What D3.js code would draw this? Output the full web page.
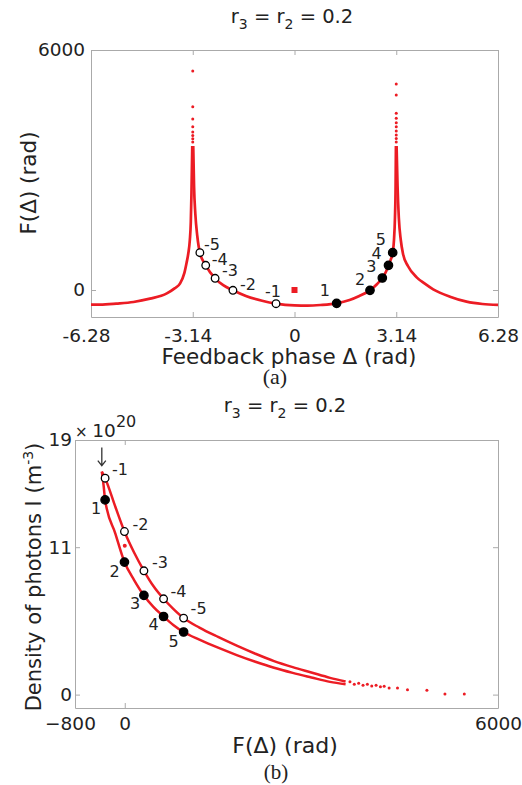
<!DOCTYPE html>
<html>
<head>
<meta charset="utf-8">
<script src="https://cdn.jsdelivr.net/npm/d3@7"></script>
<style>
  body { margin: 0; background: #fff; }
  svg text { font-family: "DejaVu Sans", sans-serif; fill: #222; }
</style>
</head>
<body>
<svg id="chart" width="522" height="785"></svg>
<script>
// ---- panel (a): F(Δ) vs feedback phase ----
const phaseLeft = [-6.28, -6.0, -5.5, -4.97, -4.46, -3.94, -3.7, -3.53, -3.4, -3.33, -3.28, -3.23, -3.2, -3.18, -3.155];
const fLeft     = [-368, -366, -340, -300, -217, -83, 40, 167, 420, 680, 900, 1250, 1700, 2400, 3600];
const phaseMid  = [-3.125, -3.1, -3.06, -3.0, -2.92, -2.74, -2.45, -2.2, -1.9, -1.5, -1.0, -0.57, 0, 0.4, 0.8, 1.3, 1.7, 2.0, 2.33, 2.55, 2.71, 2.83, 2.9, 2.97, 3.03, 3.07, 3.1, 3.12, 3.13];
const fMid      = [3600, 2600, 1900, 1350, 933, 617, 292, 120, -8, -150, -270, -342, -385, -390, -375, -333, -250, -150, -8, 150, 300, 470, 617, 760, 933, 1250, 1800, 2600, 3600];
const phaseRight = [3.15, 3.18, 3.22, 3.28, 3.35, 3.5, 3.77, 4.0, 4.28, 4.8, 5.31, 5.8, 6.28];
const fRight     = [3600, 2600, 1800, 1250, 900, 600, 317, 170, 17, -167, -292, -350, -370];
// sparse samples on top of the two spikes
const spikeLeftF  = [3700, 3780, 3860, 3950, 4083, 4275, 4583, 5475];
const spikeRightF = [3700, 3790, 3875, 3975, 4083, 4183, 4292, 4417, 4875, 5150];
// marked modes
const modeNeg = ["-1", "-2", "-3", "-4", "-5"];
const modePos = ["1", "2", "3", "4", "5"];
const phaseNeg = [-0.57, -1.90, -2.45, -2.74, -2.92];
const fNegA    = [-342, -8, 292, 617, 933];
const phasePos = [1.30, 2.33, 2.71, 2.90, 3.03];
const fPosA    = [-333, -8, 300, 617, 933];
const xTicksA = [-6.28, -3.14, 0, 3.14, 6.28];
const xTickLabelsA = ["-6.28", "-3.14", "0", "3.14", "6.28"];
const yTicksA = [0, 6000];

// ---- panel (b): photon density vs F(Δ) ----
const fUpper = [-369, -316, -150, -5, 150, 308, 460, 624, 780, 946, 1200, 1500, 1800, 2100, 2400, 2700, 3000, 3300, 3550];
const iUpper = [16.64, 16.15, 14.0, 12.17, 10.6, 9.24, 8.1, 7.15, 6.4, 5.71, 5.0, 4.3, 3.65, 3.05, 2.5, 2.05, 1.65, 1.25, 0.98];
const fLower = [-369, -340, -316, -150, -5, 150, 308, 460, 624, 780, 946, 1200, 1500, 1800, 2100, 2400, 2700, 3000, 3300, 3550];
const iLower = [16.64, 15.6, 14.53, 12.0, 9.89, 8.55, 7.40, 6.55, 5.83, 5.2, 4.67, 4.1, 3.5, 2.95, 2.45, 2.0, 1.62, 1.28, 0.95, 0.78];
const fTail = [3620, 3690, 3760, 3830, 3900, 3970, 4040, 4110, 4170, 4250, 4384, 4545, 4857, 5147, 5458];
const iTail = [0.95, 0.78, 0.85, 0.7, 0.78, 0.64, 0.7, 0.58, 0.62, 0.5, 0.5, 0.37, 0.32, 0.05, 0.05];
const fNegB = [-316, -5, 308, 624, 946];
const iNegB = [16.15, 12.17, 9.24, 7.15, 5.71];
const fPosB = [-316, -5, 308, 624, 946];
const iPosB = [14.53, 9.89, 7.40, 5.83, 4.67];
const xTicksB = [-800, 0, 6000];
const yTicksB = [0, 11, 19];

const red = "#ec1c24";
const boxColor = "#aaa";
const svg = d3.select("#chart");

function toPts(xs, ys) { return xs.map((v, i) => [v, ys[i]]); }

function frame(x, y, xt, xfmt, yt, padX, padY) {
  const [x0, x1] = x.range(), [y0, y1] = y.range();
  const style = g => {
    g.attr("font-family", "DejaVu Sans").attr("font-size", 18.5);
    g.select(".domain").attr("stroke", boxColor);
    g.selectAll(".tick line").attr("stroke", boxColor);
    g.selectAll(".tick text").attr("fill", "#222");
  };
  svg.append("g").attr("transform", `translate(0,${y0})`)
    .call(d3.axisBottom(x).tickValues(xt).tickFormat(xfmt).tickSize(-5).tickSizeOuter(0).tickPadding(padX))
    .call(style)
    .selectAll(".tick text").attr("dx", d => d < 0 ? -5 : 0);
  svg.append("g").attr("transform", `translate(0,${y1})`)
    .call(d3.axisTop(x).tickValues(xt).tickFormat("").tickSize(-5).tickSizeOuter(0)).call(style);
  svg.append("g").attr("transform", `translate(${x0},0)`)
    .call(d3.axisLeft(y).tickValues(yt).tickFormat(d3.format("d")).tickSize(-5).tickSizeOuter(0).tickPadding(padY))
    .call(style);
  svg.append("g").attr("transform", `translate(${x1},0)`)
    .call(d3.axisRight(y).tickValues(yt).tickFormat("").tickSize(-5).tickSizeOuter(0)).call(style);
}

function title(cx, cy) {
  const t = svg.append("text").attr("x", cx).attr("y", cy).attr("text-anchor", "middle").attr("font-size", 19.5);
  t.append("tspan").text("r");
  t.append("tspan").attr("dy", 6).attr("font-size", 14).text("3");
  t.append("tspan").attr("dy", -6).text(" = r");
  t.append("tspan").attr("dy", 6).attr("font-size", 14).text("2");
  t.append("tspan").attr("dy", -6).text(" = 0.2");
}

function markers(pts, filled, labels, dx, dy) {
  pts.forEach(([px, py], i) => {
    svg.append("circle").attr("cx", px).attr("cy", py).attr("r", filled ? 4.2 : 3.8)
      .attr("fill", filled ? "#000" : "#fff").attr("stroke", "#000").attr("stroke-width", 1.3);
    svg.append("text").attr("x", px + dx[i]).attr("y", py + dy[i]).attr("font-size", 16).text(labels[i]);
  });
}

// ================= panel (a) =================
const xA = d3.scaleLinear().domain([-6.28, 6.28]).range([91, 498]);
const yA = d3.scaleLinear().domain([-675, 6000]).range([317, 50]);
frame(xA, yA, xTicksA, (d, i) => xTickLabelsA[i], yTicksA, 12, 6);

const lineA = d3.line().x(d => xA(d[0])).y(d => yA(d[1])).curve(d3.curveMonotoneX);
[toPts(phaseLeft, fLeft), toPts(phaseMid, fMid), toPts(phaseRight, fRight)].forEach(seg => {
  svg.append("path").datum(seg).attr("d", lineA).attr("fill", "none")
    .attr("stroke", red).attr("stroke-width", 2.7);
});
[[-3.14, spikeLeftF], [3.14, spikeRightF]].forEach(([ph, vals]) => {
  svg.selectAll(null).data(vals).enter().append("circle")
    .attr("cx", xA(ph)).attr("cy", d => yA(d)).attr("r", 1.5).attr("fill", red);
});
svg.append("rect").attr("x", xA(0) - 3).attr("y", yA(0) - 3).attr("width", 6).attr("height", 6).attr("fill", red);

markers(toPts(phaseNeg, fNegA).map(d => [xA(d[0]), yA(d[1])]), false, modeNeg,
  [-11, 7, 7, 6, 4], [-7, 0, -2, 0, -3]);
markers(toPts(phasePos, fPosA).map(d => [xA(d[0]), yA(d[1])]), true, modePos,
  [-17, -15, -16, -17, -17], [-7, -5, -6, -6, -8]);

title(292, 23);
svg.append("text").attr("x", 289).attr("y", 364).attr("text-anchor", "middle").attr("font-size", 21.5)
  .text("Feedback phase \u0394 (rad)");
svg.append("text").attr("transform", "translate(36,183) rotate(-90)").attr("text-anchor", "middle")
  .attr("font-size", 21.5).text("F(\u0394) (rad)");
svg.append("text").attr("x", 275).attr("y", 384).attr("text-anchor", "middle")
  .style("font-family", "'Liberation Serif', serif").attr("font-size", 22).text("(a)");

// ================= panel (b) =================
const xB = d3.scaleLinear().domain([-800, 6000]).range([75, 498]);
const yB = d3.scaleLinear().domain([-1, 19]).range([708, 440]);
frame(xB, yB, xTicksB, d3.format("d"), yTicksB, 9, 3);

const lineB = d3.line().x(d => xB(d[0])).y(d => yB(d[1])).curve(d3.curveMonotoneX);
[toPts(fUpper, iUpper), toPts(fLower, iLower)].forEach(seg => {
  svg.append("path").datum(seg).attr("d", lineB).attr("fill", "none")
    .attr("stroke", red).attr("stroke-width", 2.5);
});
svg.selectAll(null).data(toPts(fTail, iTail)).enter().append("circle")
  .attr("cx", d => xB(d[0])).attr("cy", d => yB(d[1])).attr("r", 1.5).attr("fill", red);
svg.append("circle").attr("cx", xB(0)).attr("cy", yB(11.1)).attr("r", 2).attr("fill", red);

markers(toPts(fNegB, iNegB).map(d => [xB(d[0]), yB(d[1])]), false, modeNeg,
  [7, 8, 8, 7, 7], [-3, -2, -3, -2, -4]);
markers(toPts(fPosB, iPosB).map(d => [xB(d[0]), yB(d[1])]), true, modePos,
  [-14, -15, -14, -15, -15], [14, 15, 14, 14, 15]);

// arrow pointing at the turning point of the loop
const tipX = xB(fUpper[0]), tipY = yB(iUpper[0]);
svg.append("path")
  .attr("d", `M${tipX},${tipY - 24}V${tipY - 6}M${tipX - 4},${tipY - 11}L${tipX},${tipY - 6}L${tipX + 4},${tipY - 11}`)
  .attr("fill", "none").attr("stroke", "#333").attr("stroke-width", 1.3);

title(285, 412);
const mult = svg.append("text").attr("x", 75).attr("y", 437).attr("font-size", 18.5);
mult.append("tspan").attr("font-size", 15).text("\u00d7 ");
mult.append("tspan").text("10");
mult.append("tspan").attr("dy", -10).attr("font-size", 16).text("20");
svg.append("text").attr("x", 285).attr("y", 753).attr("text-anchor", "middle").attr("font-size", 22)
  .text("F(\u0394) (rad)");
const yl = svg.append("text").attr("transform", "translate(41,577) rotate(-90)").attr("text-anchor", "middle")
  .attr("font-size", 21);
yl.append("tspan").text("Density of photons I (m");
yl.append("tspan").attr("dy", -8).attr("font-size", 14).text("-3");
yl.append("tspan").attr("dy", 8).text(")");
svg.append("text").attr("x", 276).attr("y", 779).attr("text-anchor", "middle")
  .style("font-family", "'Liberation Serif', serif").attr("font-size", 21).text("(b)");
</script>
</body>
</html>
